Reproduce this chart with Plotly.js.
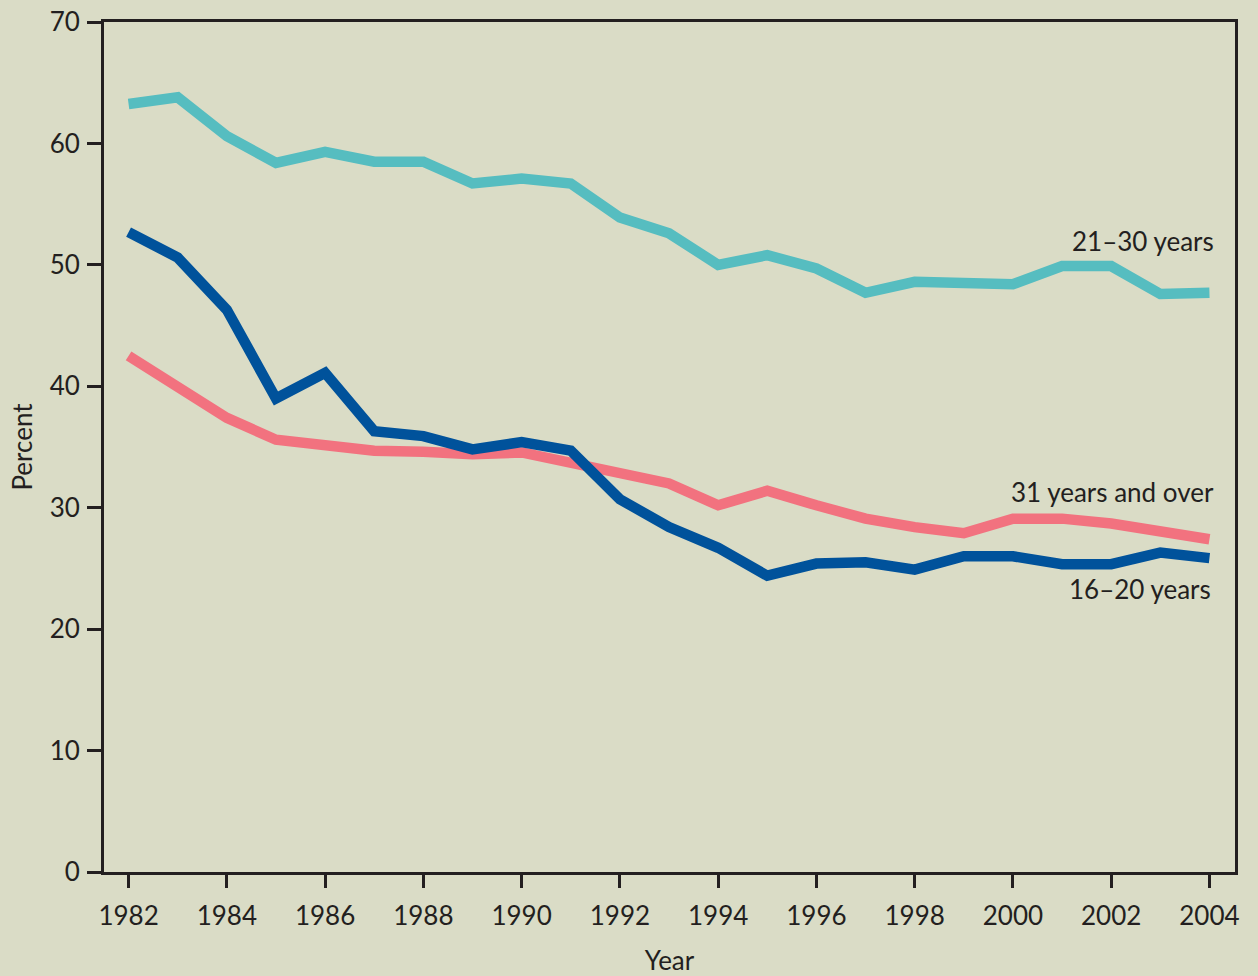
<!DOCTYPE html>
<html>
<head>
<meta charset="utf-8">
<script src="https://cdn.plot.ly/plotly-3.0.1.min.js"></script>
<style>html,body{margin:0;padding:0;background:#DADCC6;}#chart{width:1258px;height:976px;}</style>
</head>
<body>
<div id="chart"></div>
<script>
const years = [1982,1983,1984,1985,1986,1987,1988,1989,1990,1991,1992,1993,1994,1995,1996,1997,1998,1999,2000,2001,2002,2003,2004];
const age21to30 = [63.25,63.8,60.6,58.4,59.3,58.5,58.5,56.7,57.1,56.7,53.9,52.6,50.0,50.8,49.7,47.7,48.6,48.6,48.4,49.9,49.9,47.6,47.7];
const age16to20 = [52.7,50.6,46.3,39.0,41.1,36.3,35.9,34.8,35.4,34.7,30.7,28.4,26.7,24.4,25.4,25.5,24.9,26.0,26.0,25.35,25.35,26.3,25.85];
const age31plus = [42.5,40.0,37.4,35.6,35.2,34.7,34.6,34.4,34.55,33.7,32.8,32.0,30.2,31.4,30.2,29.1,28.4,27.9,29.1,29.1,28.7,28.1,27.4];
const seriesNames = ["21–30 years","31 years and over","16–20 years"];
const xTicks = [1982,1984,1986,1988,1990,1992,1994,1996,1998,2000,2002,2004];
const yTicks = [0,10,20,30,40,50,60,70];

const ink = "#231F20";
const fam = "Lato, 'Open Sans', sans-serif";
const font = {family: fam, size: 26, color: ink};

const traces = [
  {x: years, y: age21to30, name: seriesNames[0], mode: "lines", line: {color: "#56BDC0", width: 10.5}},
  {x: years, y: age31plus, name: seriesNames[1], mode: "lines", line: {color: "#F2727F", width: 10.5}},
  {x: years, y: age16to20, name: seriesNames[2], mode: "lines", line: {color: "#00529B", width: 10.5}}
];

const layout = {
  width: 1258, height: 976,
  paper_bgcolor: "#DADCC6", plot_bgcolor: "#DADCC6",
  margin: {l: 104, r: 23, t: 22, b: 104},
  showlegend: false,
  font: font,
  xaxis: {
    range: [1981.5, 2004.52], tickvals: xTicks, ticktext: xTicks.map(String),
    showgrid: false, zeroline: false, showline: true, linecolor: ink, linewidth: 3, mirror: true,
    ticks: "outside", ticklen: 13, tickwidth: 3, tickcolor: ink,
    tickfont: font, ticklabelstandoff: 6,
    title: {text: "Year", font: font, standoff: 25}
  },
  yaxis: {
    range: [0, 70], tickvals: yTicks,
    showgrid: false, zeroline: false, showline: true, linecolor: ink, linewidth: 3, mirror: true,
    ticks: "outside", ticklen: 14, tickwidth: 3, tickcolor: ink,
    tickfont: font, ticklabelstandoff: 2,
    title: {text: "Percent", font: font, standoff: 10}
  },
  annotations: [
    {x: 2004.14, y: 52.0, xref: "x", yref: "y", text: seriesNames[0], showarrow: false, xanchor: "right", yanchor: "middle", font: font},
    {x: 2004.14, y: 31.3, xref: "x", yref: "y", text: seriesNames[1], showarrow: false, xanchor: "right", yanchor: "middle", font: font},
    {x: 2004.08, y: 23.3, xref: "x", yref: "y", text: seriesNames[2], showarrow: false, xanchor: "right", yanchor: "middle", font: font}
  ]
};

Plotly.newPlot("chart", traces, layout, {displayModeBar: false, staticPlot: true});
</script>
</body>
</html>
